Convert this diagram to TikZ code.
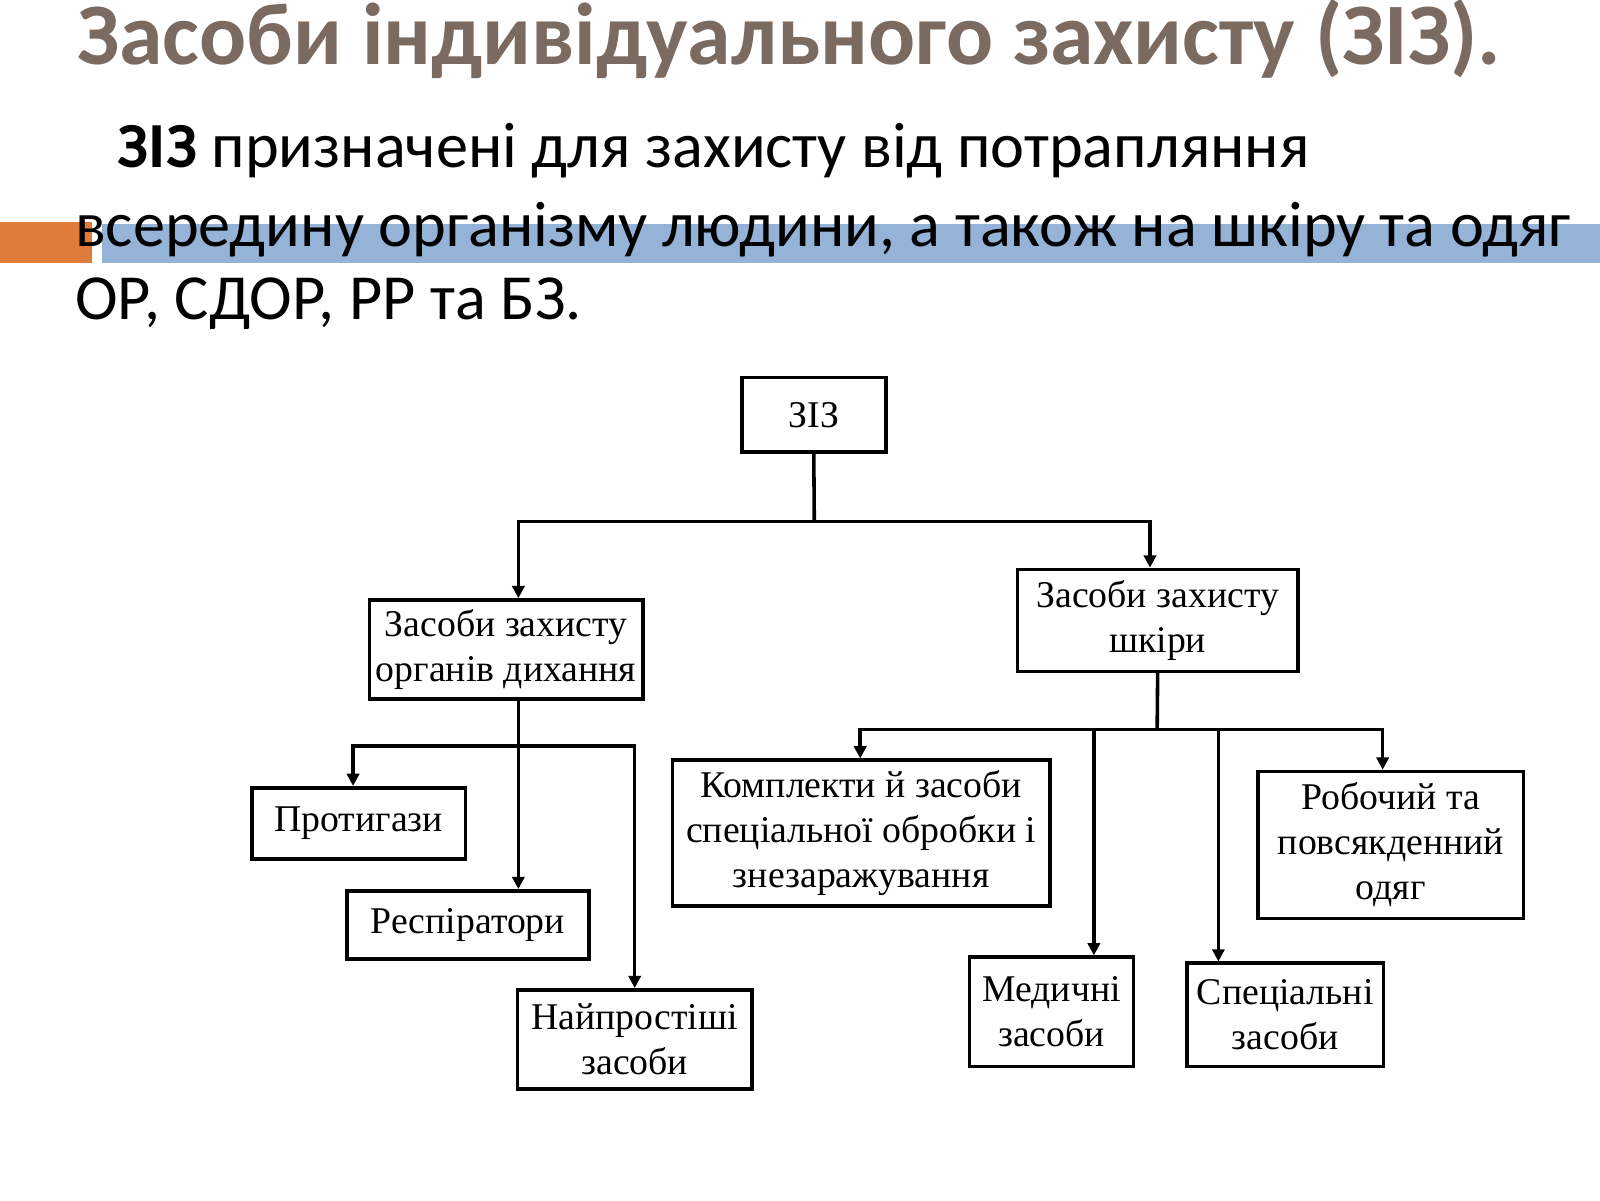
\documentclass[tikz,border=0pt]{standalone}
\usepackage{fontspec}
\setmainfont{Liberation Serif}
\newfontfamily\calfnt{Carlito}
\usetikzlibrary{arrows.meta}
\definecolor{ttl}{HTML}{7B6A5F}
\definecolor{bar}{HTML}{95B3D7}
\definecolor{org}{HTML}{E07B3C}
\begin{document}
\begin{tikzpicture}[x=1pt,y=-1pt,
  bx/.style={draw,line width=3.5pt,inner sep=0pt,align=center,font=\fontsize{37}{44}\selectfont},
  ln/.style={line width=3.5pt},
  ar/.style={line width=3.5pt,-{Triangle[length=12pt,width=12pt]}}]
\useasboundingbox (0,0) rectangle (1568,1176);
\fill[org] (0,218) rectangle (90,258);
\fill[bar] (100,220) rectangle (1568,258);
\node[anchor=west,text=ttl,font=\calfnt\bfseries\fontsize{86}{90}\selectfont] (title) at (72,38) {Засоби індивідуального захисту (ЗІЗ).};
\node[anchor=west,font=\calfnt\fontsize{63}{66}\selectfont] (l1) at (112,148) {\textbf{ЗІЗ} призначені для захисту від потрапляння};
\node[anchor=west,font=\calfnt\fontsize{63}{66}\selectfont] (l2) at (70,225) {всередину організму людини, а також на шкіру та одяг};
\node[anchor=west,font=\calfnt\fontsize{63}{66}\selectfont] (l3) at (70,298) {ОР, СДОР, РР та БЗ.};
% boxes
\node[bx,minimum width=141pt,minimum height=73pt] (ziz) at (797.5,406.5) {ЗІЗ};
\node[bx,minimum width=268pt,minimum height=97pt] (resp) at (496,636.5) {Засоби захисту\\органів дихання};
\node[bx,minimum width=275pt,minimum height=100pt] (skin) at (1134.5,608) {Засоби захисту\\шкіри};
\node[bx,minimum width=209pt,minimum height=70pt] (prot) at (351.5,807) {Протигази};
\node[bx,minimum width=237pt,minimum height=67pt] (rsp) at (458.5,906.5) {Респіратори};
\node[bx,minimum width=230pt,minimum height=97pt] (nai) at (622,1018.5) {Найпростіші\\засоби};
\node[bx,minimum width=370pt,minimum height=143pt] (kom) at (844,816.5) {Комплекти й засоби\\спеціальної обробки і\\знезаражування};
\node[bx,minimum width=260pt,minimum height=144pt] (rob) at (1363,828) {Робочий та\\повсякденний\\одяг};
\node[bx,minimum width=161pt,minimum height=107pt] (med) at (1030.5,991.5) {Медичні\\засоби};
\node[bx,minimum width=193pt,minimum height=101pt] (spc) at (1259.5,994.5) {Спеціальні\\засоби};
% connectors
\coordinate (j1) at (798,511);
\draw[ln] (ziz.south) -- (j1);
\draw[ar] (j1) -| ([xshift=12pt]resp.north);
\draw[ar] (j1) -| ([xshift=-7.5pt]skin.north);
\coordinate (j2) at (508,731);
\draw[ar] ([xshift=12pt]resp.south) -- ([xshift=49.5pt]rsp.north);
\draw[ar] (j2) -| ([xshift=-5.5pt]prot.north);
\draw[ar] (j2) -| (nai.north);
\coordinate (j3) at (1134,715);
\draw[ln] (skin.south) -- (j3);
\draw[ar] (j3) -| ([xshift=-1pt]kom.north);
\draw[ar] (j3) -| ([xshift=-8pt]rob.north);
\draw[ar] (j3 -| med.north) ++(41.5,0) -- ([xshift=41.5pt]med.north);
\draw[ar] (j3 -| spc.north) ++(-65.5,0) -- ([xshift=-65.5pt]spc.north);
\end{tikzpicture}
\end{document}
